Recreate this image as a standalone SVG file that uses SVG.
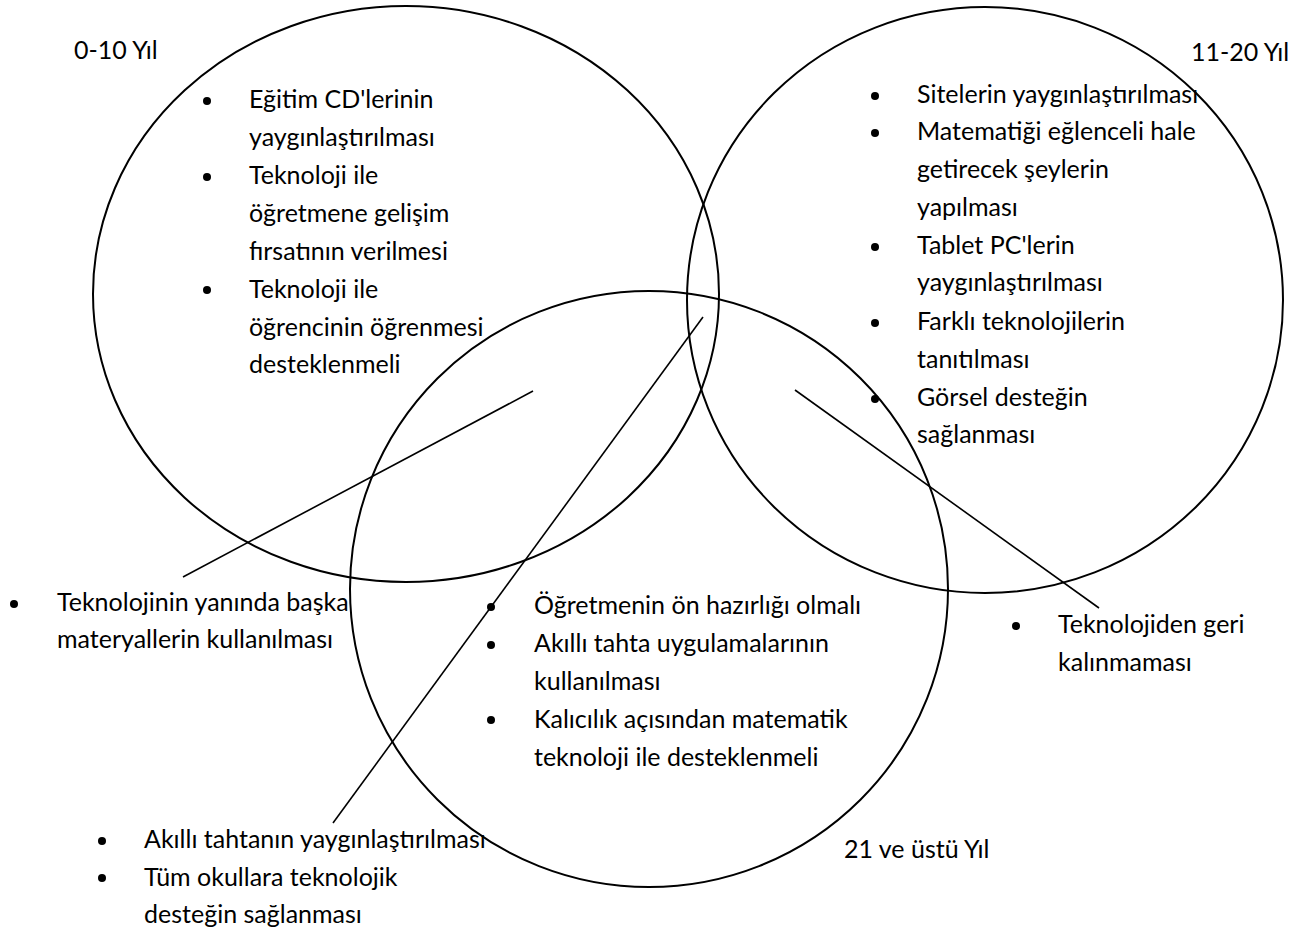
<svg xmlns="http://www.w3.org/2000/svg" width="1296" height="934" viewBox="0 0 1296 934">
<style>
.c{fill:none;stroke:#000;stroke-width:2}
.l{stroke:#000;stroke-width:1.6;fill:none}
text{font-family:Lato,"Noto Sans",sans-serif;font-size:25px;fill:#000}
.b{fill:#000}
</style>
<rect width="1296" height="934" fill="#fff"/>
<g id="circle-0-10">
<ellipse class="c" cx="406" cy="294" rx="313" ry="288"/>
</g>
<g id="circle-11-20">
<ellipse class="c" cx="985" cy="300" rx="298" ry="293"/>
</g>
<g id="circle-21">
<ellipse class="c" cx="649" cy="589" rx="299" ry="298"/>
</g>
<g id="connectors">
<line class="l" x1="533" y1="391" x2="183" y2="577"/>
<line class="l" x1="703" y1="317" x2="333" y2="823"/>
<line class="l" x1="795" y1="390" x2="1099" y2="608"/>
</g>
<g id="label-0-10"><text x="74" y="59">0-10 Yıl</text></g>
<g id="label-11-20"><text x="1191" y="61">11-20 Yıl</text></g>
<g id="label-21"><text x="844" y="858">21 ve üstü Yıl</text></g>
<g id="list-0-10">
<circle class="b" cx="207" cy="101" r="4"/>
<circle class="b" cx="207" cy="177" r="4"/>
<circle class="b" cx="207" cy="290" r="4"/>
<text x="249" y="108">Eğitim CD'lerinin</text>
<text x="249" y="146">yaygınlaştırılması</text>
<text x="249" y="184">Teknoloji ile</text>
<text x="249" y="222">öğretmene gelişim</text>
<text x="249" y="260">fırsatının verilmesi</text>
<text x="249" y="298">Teknoloji ile</text>
<text x="249" y="336">öğrencinin öğrenmesi</text>
<text x="249" y="373">desteklenmeli</text>
</g>
<g id="list-11-20">
<circle class="b" cx="875" cy="96" r="4"/>
<circle class="b" cx="875" cy="133" r="4"/>
<circle class="b" cx="875" cy="247" r="4"/>
<circle class="b" cx="875" cy="323" r="4"/>
<circle class="b" cx="875" cy="399" r="4"/>
<text x="917" y="103">Sitelerin yaygınlaştırılması</text>
<text x="917" y="140">Matematiği eğlenceli hale</text>
<text x="917" y="178">getirecek şeylerin</text>
<text x="917" y="216">yapılması</text>
<text x="917" y="254">Tablet PC'lerin</text>
<text x="917" y="291">yaygınlaştırılması</text>
<text x="917" y="330">Farklı teknolojilerin</text>
<text x="917" y="368">tanıtılması</text>
<text x="917" y="406">Görsel desteğin</text>
<text x="917" y="443">sağlanması</text>
</g>
<g id="list-left">
<circle class="b" cx="14" cy="604" r="4"/>
<text x="57" y="611">Teknolojinin yanında başka</text>
<text x="57" y="648">materyallerin kullanılması</text>
</g>
<g id="list-center">
<circle class="b" cx="491" cy="607" r="4"/>
<circle class="b" cx="491" cy="645" r="4"/>
<circle class="b" cx="491" cy="720" r="4"/>
<text x="534" y="614">Öğretmenin ön hazırlığı olmalı</text>
<text x="534" y="652">Akıllı tahta uygulamalarının</text>
<text x="534" y="690">kullanılması</text>
<text x="534" y="728">Kalıcılık açısından matematik</text>
<text x="534" y="766">teknoloji ile desteklenmeli</text>
</g>
<g id="list-right">
<circle class="b" cx="1016" cy="626" r="4"/>
<text x="1058" y="633">Teknolojiden geri</text>
<text x="1058" y="671">kalınmaması</text>
</g>
<g id="list-bottom">
<circle class="b" cx="102" cy="841" r="4"/>
<circle class="b" cx="102" cy="878" r="4"/>
<text x="144" y="848">Akıllı tahtanın yaygınlaştırılması</text>
<text x="144" y="886">Tüm okullara teknolojik</text>
<text x="144" y="923">desteğin sağlanması</text>
</g>
</svg>
